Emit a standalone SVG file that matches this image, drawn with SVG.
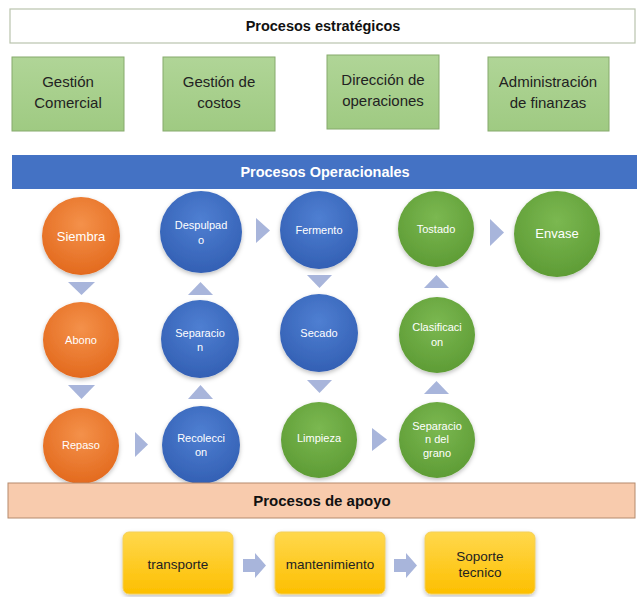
<svg xmlns="http://www.w3.org/2000/svg" width="637" height="597" viewBox="0 0 637 597">
<defs>
<radialGradient id="gO" cx="50%" cy="35%" r="65%"><stop offset="0" stop-color="#f4914a"/><stop offset="1" stop-color="#e36a1e"/></radialGradient>
<radialGradient id="gB" cx="50%" cy="35%" r="65%"><stop offset="0" stop-color="#4f7fd2"/><stop offset="1" stop-color="#3360b4"/></radialGradient>
<radialGradient id="gG" cx="50%" cy="35%" r="65%"><stop offset="0" stop-color="#7bb851"/><stop offset="1" stop-color="#5e9c35"/></radialGradient>
<linearGradient id="gY" x1="0" y1="0" x2="0" y2="1"><stop offset="0" stop-color="#ffd84d"/><stop offset="1" stop-color="#fdbf00"/></linearGradient>
<linearGradient id="gL" x1="0" y1="0" x2="0" y2="1"><stop offset="0" stop-color="#b0d597"/><stop offset="1" stop-color="#9fca82"/></linearGradient>
<filter id="sh" x="-20%" y="-20%" width="140%" height="150%"><feDropShadow dx="0" dy="2" stdDeviation="2" flood-color="#000" flood-opacity="0.25"/></filter>
</defs>
<style>
text{font-family:"Liberation Sans",Arial,sans-serif;text-anchor:middle}
.hdr{font-size:14.5px;font-weight:bold;fill:#111}
.hdrw{font-size:14.5px;font-weight:bold;fill:#fff}
.box{fill:url(#gL);stroke:#86aa6c;stroke-width:1}
.bt{font-size:15px;fill:#222}
.ct{font-size:11px;fill:#fff}
.cb{font-size:13px;fill:#fff}
.o{fill:url(#gO);filter:url(#sh)}
.b{fill:url(#gB);filter:url(#sh)}
.g{fill:url(#gG);filter:url(#sh)}
.ar{fill:#a8b5db}
.yb{fill:url(#gY);stroke:#f3cf5a;stroke-width:1;filter:url(#sh)}
.yt{font-size:13.5px;fill:#222}
</style>
<rect width="637" height="597" fill="#fff"/>

<g id="estrategicos">
<rect x="10" y="9" width="625" height="34" fill="#fff" stroke="#b9c4ad" stroke-width="1.2"/>
<text class="hdr" x="323" y="31">Procesos estratégicos</text>
</g>
<g id="gestion-comercial">
<rect class="box" x="12" y="57" width="112" height="74"/>
<text class="bt" x="68" y="87">Gestión</text><text class="bt" x="68" y="108">Comercial</text>
</g>
<g id="gestion-costos">
<rect class="box" x="163" y="57" width="112" height="74"/>
<text class="bt" x="219" y="87">Gestión de</text><text class="bt" x="219" y="108">costos</text>
</g>
<g id="direccion-operaciones">
<rect class="box" x="327" y="55" width="112" height="74"/>
<text class="bt" x="383" y="85">Dirección de</text><text class="bt" x="383" y="106">operaciones</text>
</g>
<g id="administracion-finanzas">
<rect class="box" x="488" y="57" width="121" height="74"/>
<text class="bt" x="548" y="87">Administración</text><text class="bt" x="548" y="108">de finanzas</text>
</g>

<g id="operacionales">
<rect x="12" y="155" width="625" height="34" fill="#4472c4"/>
<text class="hdrw" x="325" y="177">Procesos Operacionales</text>
</g>

<g id="siembra"><circle class="o" cx="81" cy="236" r="39"/><text class="cb" x="81" y="241">Siembra</text></g>
<g id="abono"><circle class="o" cx="81" cy="340" r="38"/><text class="ct" x="81" y="344">Abono</text></g>
<g id="repaso"><circle class="o" cx="81" cy="446" r="38"/><text class="ct" x="81" y="449">Repaso</text></g>
<g id="despulpado"><circle class="b" cx="201" cy="232" r="41"/><text class="ct" x="201" y="229">Despulpad</text><text class="ct" x="201" y="244">o</text></g>
<g id="separacion"><circle class="b" cx="200" cy="339" r="39"/><text class="ct" x="200" y="337">Separacio</text><text class="ct" x="200" y="351">n</text></g>
<g id="recoleccion"><circle class="b" cx="201" cy="445" r="39"/><text class="ct" x="201" y="442">Recolecci</text><text class="ct" x="201" y="456">on</text></g>
<g id="fermento"><circle class="b" cx="319" cy="230" r="39"/><text class="ct" x="319" y="234">Fermento</text></g>
<g id="secado"><circle class="b" cx="319" cy="333" r="39"/><text class="ct" x="319" y="337">Secado</text></g>
<g id="limpieza"><circle class="g" cx="319" cy="440" r="38"/><text class="ct" x="319" y="442">Limpieza</text></g>
<g id="tostado"><circle class="g" cx="436" cy="229" r="38"/><text class="ct" x="436" y="233">Tostado</text></g>
<g id="clasificacion"><circle class="g" cx="437" cy="335" r="38"/><text class="ct" x="437" y="331">Clasificaci</text><text class="ct" x="437" y="346">on</text></g>
<g id="separacion-grano"><circle class="g" cx="437" cy="440" r="38"/><text class="ct" x="437" y="430">Separacio</text><text class="ct" x="437" y="443">n del</text><text class="ct" x="437" y="457">grano</text></g>
<g id="envase"><circle class="g" cx="557" cy="234" r="43"/><text class="cb" x="557" y="238">Envase</text></g>

<g id="apoyo">
<rect x="8" y="483" width="627" height="35" fill="#f8cbad" stroke="#b58a6c" stroke-width="1"/>
<text class="hdr" x="322" y="506" style="font-size:15px">Procesos de apoyo</text>
</g>
<g id="transporte"><rect class="yb" x="123" y="532" width="110" height="62" rx="6"/><text class="yt" x="178" y="569">transporte</text></g>
<g id="mantenimiento"><rect class="yb" x="275" y="532" width="110" height="62" rx="6"/><text class="yt" x="330" y="569">mantenimiento</text></g>
<g id="soporte"><rect class="yb" x="425" y="532" width="110" height="62" rx="6"/><text class="yt" x="480" y="561">Soporte</text><text class="yt" x="480" y="577">tecnico</text></g>

<g id="connectors">
<polygon class="ar" points="68,282 95,282 81.5,295"/>
<polygon class="ar" points="68,385 95,385 81.5,399"/>
<polygon class="ar" points="135,432 135,457 148,444.5"/>
<polygon class="ar" points="188,399 213,399 200.5,385"/>
<polygon class="ar" points="188,295 213,295 200.5,282"/>
<polygon class="ar" points="256,218 256,243 270,230.5"/>
<polygon class="ar" points="307,275 332,275 319.5,288"/>
<polygon class="ar" points="307,380 332,380 319.5,393"/>
<polygon class="ar" points="372,428 372,451 387,439.5"/>
<polygon class="ar" points="424,394 449,394 436.5,381"/>
<polygon class="ar" points="424,288 449,288 436.5,275"/>
<polygon class="ar" points="490,219 490,246 504,232.5"/>
<polygon class="ar" points="243,559 255,559 255,553 266,565.5 255,578 255,572 243,572"/>
<polygon class="ar" points="394,559 406,559 406,553 417,565.5 406,578 406,572 394,572"/>
</g>
</svg>
